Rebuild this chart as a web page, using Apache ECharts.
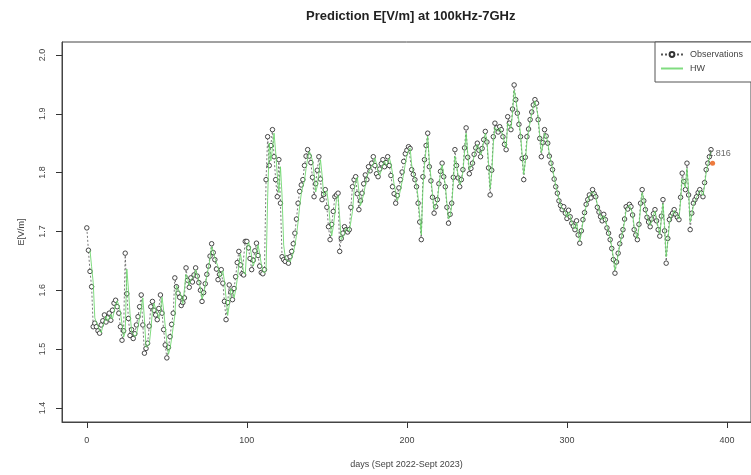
<!DOCTYPE html>
<html>
<head>
<meta charset="utf-8">
<title>Prediction E[V/m] at 100kHz-7GHz</title>
<script src="https://cdn.jsdelivr.net/npm/echarts@6/dist/echarts.min.js"></script>
<style>
  html, body { margin: 0; padding: 0; background: #ffffff; }
  #chart { width: 751px; height: 475px; }
</style>
</head>
<body>
<div id="chart"></div>
<script>
// Daily field-strength observations, day 0 .. 390 (E in V/m)
const observations = [
  1.706, 1.668, 1.632, 1.606, 1.538, 1.544, 1.538, 1.531, 1.527, 1.541,
  1.548, 1.558, 1.546, 1.553, 1.561, 1.549, 1.566, 1.578, 1.583, 1.572,
  1.561, 1.538, 1.515, 1.531, 1.663, 1.594, 1.552, 1.523, 1.533, 1.518,
  1.526, 1.541, 1.555, 1.572, 1.592, 1.541, 1.493, 1.501, 1.510, 1.539,
  1.572, 1.581, 1.566, 1.558, 1.550, 1.569, 1.592, 1.561, 1.533, 1.507,
  1.485, 1.503, 1.521, 1.542, 1.561, 1.621, 1.606, 1.595, 1.588, 1.574,
  1.579, 1.587, 1.638, 1.617, 1.605, 1.621, 1.614, 1.626, 1.638, 1.624,
  1.613, 1.600, 1.581, 1.596, 1.611, 1.627, 1.641, 1.658, 1.679, 1.664,
  1.652, 1.636, 1.618, 1.627, 1.635, 1.612, 1.581, 1.550, 1.579, 1.609,
  1.597, 1.584, 1.603, 1.623, 1.647, 1.666, 1.643, 1.628, 1.626, 1.683,
  1.683, 1.672, 1.654, 1.635, 1.651, 1.667, 1.680, 1.659, 1.641, 1.630,
  1.628, 1.635, 1.788, 1.861, 1.812, 1.846, 1.873, 1.827, 1.788, 1.759,
  1.822, 1.748, 1.657, 1.652, 1.649, 1.655, 1.646, 1.657, 1.666, 1.679,
  1.697, 1.721, 1.748, 1.768, 1.779, 1.788, 1.812, 1.828, 1.839, 1.828,
  1.817, 1.792, 1.759, 1.781, 1.804, 1.827, 1.789, 1.754, 1.763, 1.771,
  1.741, 1.708, 1.686, 1.712, 1.734, 1.759, 1.762, 1.765, 1.666, 1.688,
  1.697, 1.708, 1.703, 1.699, 1.703, 1.741, 1.776, 1.788, 1.793, 1.764,
  1.737, 1.752, 1.765, 1.781, 1.796, 1.788, 1.810, 1.803, 1.816, 1.827,
  1.812, 1.798, 1.793, 1.806, 1.815, 1.822, 1.810, 1.817, 1.827, 1.812,
  1.795, 1.776, 1.764, 1.748, 1.761, 1.774, 1.788, 1.801, 1.819, 1.832,
  1.838, 1.844, 1.841, 1.805, 1.797, 1.788, 1.776, 1.748, 1.716, 1.686,
  1.793, 1.822, 1.846, 1.867, 1.810, 1.786, 1.758, 1.731, 1.742, 1.754,
  1.781, 1.802, 1.816, 1.793, 1.776, 1.741, 1.714, 1.729, 1.748, 1.792,
  1.839, 1.812, 1.791, 1.776, 1.788, 1.805, 1.842, 1.876, 1.826, 1.798,
  1.807, 1.816, 1.831, 1.842, 1.850, 1.838, 1.827, 1.841, 1.856, 1.870,
  1.852, 1.808, 1.762, 1.804, 1.861, 1.884, 1.876, 1.869, 1.878, 1.873,
  1.861, 1.848, 1.839, 1.895, 1.884, 1.873, 1.908, 1.949, 1.924, 1.901,
  1.882, 1.861, 1.824, 1.788, 1.826, 1.861, 1.874, 1.890, 1.903, 1.915,
  1.924, 1.918, 1.890, 1.858, 1.827, 1.851, 1.873, 1.862, 1.850, 1.828,
  1.816, 1.805, 1.789, 1.776, 1.765, 1.752, 1.744, 1.737, 1.742, 1.731,
  1.722, 1.736, 1.725, 1.714, 1.709, 1.703, 1.718, 1.694, 1.680, 1.701,
  1.720, 1.732, 1.746, 1.754, 1.762, 1.757, 1.771, 1.764, 1.759, 1.741,
  1.733, 1.725, 1.718, 1.729, 1.720, 1.706, 1.697, 1.686, 1.671, 1.652,
  1.629, 1.648, 1.663, 1.679, 1.692, 1.703, 1.721, 1.742, 1.738, 1.746,
  1.742, 1.728, 1.703, 1.694, 1.686, 1.712, 1.748, 1.771, 1.752, 1.737,
  1.724, 1.716, 1.708, 1.721, 1.730, 1.737, 1.718, 1.703, 1.692, 1.726,
  1.754, 1.701, 1.646, 1.688, 1.720, 1.727, 1.731, 1.737, 1.729, 1.724,
  1.720, 1.758, 1.799, 1.785, 1.771, 1.816, 1.762, 1.703, 1.731, 1.748,
  1.754, 1.759, 1.766, 1.771, 1.765, 1.759, 1.783, 1.805, 1.816, 1.827,
  1.839
];

// Holt-Winters fitted values (no fit for the first two days)
const hwFitted = [
  null,  null,  1.668, 1.640, 1.613, 1.553, 1.545, 1.539, 1.532, 1.528,
  1.539, 1.546, 1.556, 1.548, 1.552, 1.559, 1.551, 1.563, 1.575, 1.582,
  1.574, 1.563, 1.542, 1.520, 1.529, 1.636, 1.602, 1.560, 1.530, 1.532,
  1.521, 1.525, 1.538, 1.553, 1.568, 1.587, 1.551, 1.503, 1.501, 1.508,
  1.533, 1.564, 1.578, 1.568, 1.560, 1.552, 1.565, 1.588, 1.566, 1.539,
  1.512, 1.491, 1.501, 1.518, 1.538, 1.557, 1.608, 1.606, 1.597, 1.590,
  1.577, 1.580, 1.627, 1.620, 1.608, 1.618, 1.615, 1.624, 1.635, 1.626,
  1.616, 1.603, 1.585, 1.594, 1.608, 1.624, 1.638, 1.654, 1.674, 1.666,
  1.655, 1.654, 1.640, 1.622, 1.626, 1.633, 1.615, 1.587, 1.557, 1.575,
  1.603, 1.598, 1.587, 1.600, 1.619, 1.642, 1.662, 1.646, 1.631, 1.627,
  1.672, 1.681, 1.674, 1.658, 1.641, 1.650, 1.664, 1.677, 1.662, 1.645,
  1.633, 1.629, 1.634, 1.758, 1.850, 1.820, 1.841, 1.867, 1.835, 1.796,
  1.766, 1.810, 1.760, 1.677, 1.656, 1.651, 1.654, 1.648, 1.655, 1.664,
  1.676, 1.693, 1.716, 1.743, 1.764, 1.777, 1.786, 1.807, 1.824, 1.836,
  1.830, 1.820, 1.798, 1.767, 1.777, 1.800, 1.822, 1.796, 1.761, 1.762,
  1.769, 1.747, 1.716, 1.692, 1.708, 1.730, 1.754, 1.761, 1.764, 1.686,
  1.687, 1.695, 1.706, 1.704, 1.700, 1.703, 1.734, 1.769, 1.785, 1.792,
  1.769, 1.744, 1.753, 1.764, 1.778, 1.793, 1.790, 1.806, 1.804, 1.814,
  1.825, 1.815, 1.802, 1.795, 1.804, 1.813, 1.820, 1.812, 1.816, 1.825,
  1.815, 1.799, 1.780, 1.767, 1.752, 1.759, 1.771, 1.785, 1.798, 1.815,
  1.829, 1.837, 1.842, 1.813, 1.800, 1.790, 1.779, 1.758, 1.726, 1.694,
  1.772, 1.812, 1.840, 1.862, 1.820, 1.792, 1.764, 1.737, 1.740, 1.751,
  1.777, 1.798, 1.813, 1.797, 1.779, 1.748, 1.721, 1.726, 1.744, 1.783,
  1.828, 1.815, 1.795, 1.779, 1.786, 1.801, 1.834, 1.867, 1.834, 1.805,
  1.806, 1.814, 1.828, 1.839, 1.848, 1.840, 1.830, 1.838, 1.853, 1.867,
  1.855, 1.817, 1.773, 1.798, 1.849, 1.877, 1.876, 1.870, 1.876, 1.874,
  1.864, 1.851, 1.842, 1.884, 1.884, 1.875, 1.901, 1.940, 1.928, 1.906,
  1.888, 1.866, 1.831, 1.797, 1.818, 1.853, 1.870, 1.886, 1.900, 1.912,
  1.922, 1.919, 1.896, 1.864, 1.834, 1.846, 1.867, 1.862, 1.852, 1.832,
  1.819, 1.807, 1.792, 1.779, 1.767, 1.755, 1.746, 1.739, 1.741, 1.733,
  1.724, 1.733, 1.726, 1.716, 1.710, 1.704, 1.715, 1.698, 1.683, 1.697,
  1.716, 1.729, 1.743, 1.752, 1.760, 1.758, 1.768, 1.765, 1.760, 1.745,
  1.735, 1.727, 1.720, 1.727, 1.721, 1.709, 1.699, 1.688, 1.674, 1.656,
  1.634, 1.645, 1.660, 1.676, 1.689, 1.701, 1.717, 1.737, 1.738, 1.745,
  1.742, 1.731, 1.708, 1.697, 1.688, 1.707, 1.741, 1.766, 1.755, 1.740,
  1.727, 1.718, 1.710, 1.719, 1.728, 1.735, 1.722, 1.707, 1.695, 1.720,
  1.747, 1.710, 1.657, 1.681, 1.713, 1.724, 1.730, 1.736, 1.730, 1.725,
  1.721, 1.751, 1.790, 1.786, 1.774, 1.807, 1.771, 1.716, 1.727, 1.744,
  1.752, 1.758, 1.764, 1.770, 1.766, 1.761, 1.778, 1.800, 1.813, 1.824,
  1.836
];

// One-step-ahead forecast
const forecastDay = 391;
const forecastValue = 1.816;

// Axis ticks
const xTicks = [0, 100, 200, 300, 400];
const yTicks = [1.4, 1.5, 1.6, 1.7, 1.8, 1.9, 2.0];

const obsPairs = observations.map((v, i) => [i, v]);
const hwPairs = hwFitted.map((v, i) => [i, v]);

const chart = echarts.init(document.getElementById('chart'), null, { renderer: 'canvas' });

const FONT = 'Liberation Sans, Arial, sans-serif';
const INK = '#444';
const TICK = '#333';
const axisText = { fontFamily: FONT, color: INK, fontSize: 9 };

chart.setOption({
  animation: false,
  backgroundColor: '#ffffff',
  title: {
    text: 'Prediction E[V/m] at 100kHz-7GHz',
    left: 301,
    top: 5,
    textStyle: { fontFamily: FONT, fontWeight: 'bold', fontSize: 13, color: '#222' }
  },
  legend: {
    left: 655,
    top: 42,
    orient: 'vertical',
    itemGap: 5,
    itemWidth: 22,
    itemHeight: 6,
    padding: [8, 40, 9, 5],
    borderColor: '#555',
    borderWidth: 1,
    borderRadius: 0,
    backgroundColor: '#ffffff',
    textStyle: { fontFamily: FONT, fontSize: 9, color: INK, padding: [0, 0, 0, 2] },
    data: [
      { name: 'Observations' },
      { name: 'HW', itemStyle: { opacity: 0 } }
    ]
  },
  grid: {
    left: 62,
    top: 42,
    right: -6,
    bottom: 53,
    show: true,
    borderColor: INK,
    borderWidth: 1,
    backgroundColor: 'transparent'
  },
  xAxis: {
    type: 'value',
    min: -15.5,
    max: 415,
    name: 'days (Sept 2022-Sept 2023)',
    nameLocation: 'middle',
    nameGap: 38,
    nameTextStyle: { fontFamily: FONT, fontSize: 9, color: INK },
    axisLine: { show: true, onZero: false, lineStyle: { color: INK, width: 1 } },
    splitLine: { show: false },
    axisTick: { show: true, length: 6, customValues: xTicks, lineStyle: { color: TICK, width: 1 } },
    axisLabel: Object.assign({ margin: 14, customValues: xTicks }, axisText)
  },
  yAxis: {
    type: 'value',
    min: 1.376,
    max: 2.022,
    name: 'E[V/m]',
    nameLocation: 'middle',
    nameGap: 36,
    nameRotate: 90,
    nameTextStyle: { fontFamily: FONT, fontSize: 9, color: INK },
    axisLine: { show: true, onZero: false, lineStyle: { color: INK, width: 1 } },
    splitLine: { show: false },
    axisTick: { show: true, length: 6, customValues: yTicks, lineStyle: { color: TICK, width: 1 } },
    axisLabel: Object.assign({
      margin: 15,
      rotate: 90,
      customValues: yTicks,
      formatter: v => v.toFixed(1)
    }, axisText)
  },
  series: [
    {
      name: 'Observations',
      type: 'line',
      data: obsPairs,
      symbol: 'circle',
      symbolSize: 4.5,
      showAllSymbol: true,
      itemStyle: { color: '#ffffff', borderColor: '#333', borderWidth: 0.9 },
      lineStyle: { color: '#555', width: 0.8, type: [2, 2] },
      emphasis: { disabled: true },
      z: 2
    },
    {
      name: 'HW',
      type: 'line',
      data: hwPairs,
      symbol: 'circle',
      showSymbol: false,
      itemStyle: { color: '#6ad66a' },
      lineStyle: { color: '#6ad66a', width: 1, opacity: 0.85 },
      emphasis: { disabled: true },
      z: 3
    },
    {
      name: 'Forecast',
      type: 'scatter',
      data: [[forecastDay, forecastValue]],
      symbol: 'circle',
      symbolSize: 5,
      itemStyle: { color: '#e8590c' },
      label: {
        show: true,
        position: 'top',
        offset: [7, 0],
        distance: 3,
        fontFamily: FONT,
        fontSize: 9,
        color: INK,
        formatter: p => p.value[1].toFixed(3)
      },
      emphasis: { disabled: true },
      z: 4
    }
  ]
});
</script>
</body>
</html>
